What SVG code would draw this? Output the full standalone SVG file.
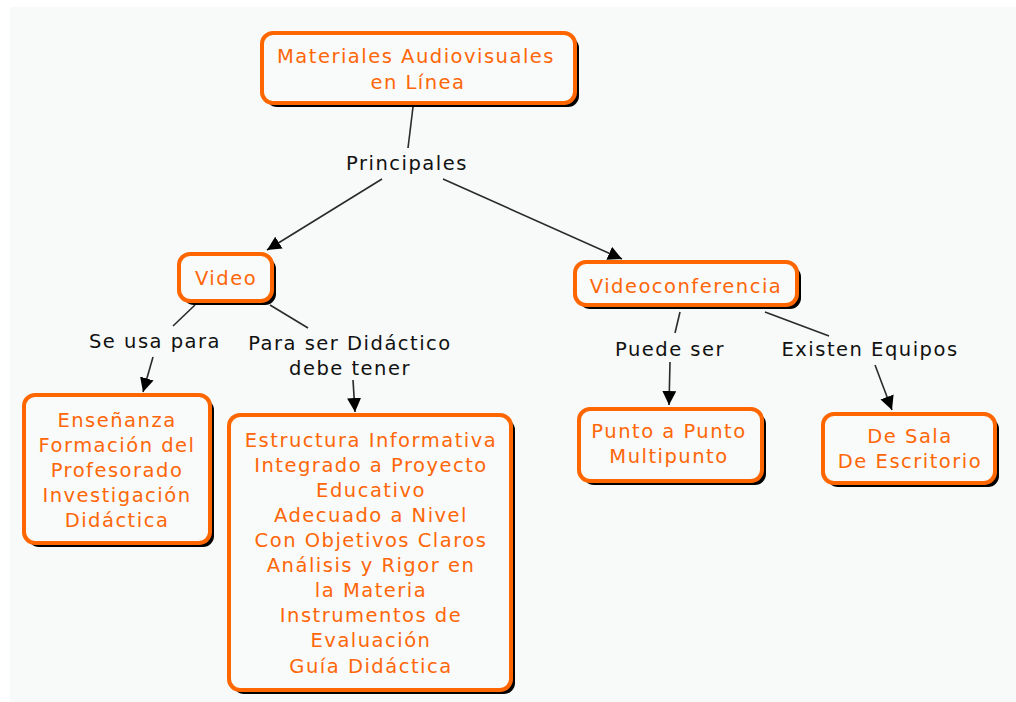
<svg xmlns="http://www.w3.org/2000/svg" width="1016" height="702" viewBox="0 0 1016 702">
<style>
.bg{fill:#f7faf8}
.box{fill:#f8fbf9;stroke:#ff6600;stroke-width:4}
.sh{fill:#000}
.nt{font-family:"DejaVu Sans",Verdana,sans-serif;font-size:19.5px;letter-spacing:1.5px;fill:#ff6608;text-anchor:middle}
.lt{font-family:"DejaVu Sans",Verdana,sans-serif;font-size:19.5px;letter-spacing:1.5px;fill:#111;text-anchor:middle}
.ln{stroke:#2a2a2a;stroke-width:1.6;fill:none}
</style>
<defs>
<marker id="ar" markerUnits="userSpaceOnUse" markerWidth="16" markerHeight="16" refX="14" refY="7" orient="auto">
<path d="M0,0 L14,7 L0,14 z" fill="#000"/>
</marker>
</defs>
<rect class="bg" x="10" y="7" width="1006" height="695"/>
<g id="connectors">
<line class="ln" x1="413" y1="107" x2="408" y2="148"/>
<line class="ln" x1="382" y1="179" x2="267" y2="250" marker-end="url(#ar)"/>
<line class="ln" x1="443" y1="179" x2="622" y2="259" marker-end="url(#ar)"/>
<line class="ln" x1="195" y1="305" x2="173" y2="326"/>
<line class="ln" x1="153" y1="357" x2="143" y2="392" marker-end="url(#ar)"/>
<line class="ln" x1="270" y1="305" x2="308" y2="328"/>
<line class="ln" x1="353" y1="380" x2="355" y2="412" marker-end="url(#ar)"/>
<line class="ln" x1="680" y1="312" x2="675" y2="333"/>
<line class="ln" x1="670" y1="362" x2="669" y2="405" marker-end="url(#ar)"/>
<line class="ln" x1="765" y1="312" x2="829" y2="336"/>
<line class="ln" x1="875" y1="365" x2="892" y2="410" marker-end="url(#ar)"/>
</g>
<g id="labels">
<text class="lt" x="407" y="170">Principales</text>
<text class="lt" x="155" y="348">Se usa para</text>
<text class="lt" x="350" y="350">Para ser Didáctico</text>
<text class="lt" x="350" y="375">debe tener</text>
<text class="lt" x="670" y="356">Puede ser</text>
<text class="lt" x="870" y="356">Existen Equipos</text>
</g>
<g id="n-main">
<rect class="sh" x="266" y="37" width="313" height="70" rx="11"/>
<rect class="box" x="262" y="33" width="313" height="70" rx="11"/>
<text class="nt" x="416" y="63">Materiales Audiovisuales</text>
<text class="nt" x="418" y="89">en Línea</text>
</g>
<g id="n-video">
<rect class="sh" x="183" y="258" width="93" height="47" rx="11"/>
<rect class="box" x="179" y="254" width="93" height="47" rx="11"/>
<text class="nt" x="226" y="285">Video</text>
</g>
<g id="n-videoconferencia">
<rect class="sh" x="579" y="266" width="222" height="43" rx="11"/>
<rect class="box" x="575" y="262" width="222" height="43" rx="11"/>
<text class="nt" x="686" y="293">Videoconferencia</text>
</g>
<g id="n-usos">
<rect class="sh" x="28" y="399" width="186" height="148" rx="11"/>
<rect class="box" x="24" y="395" width="186" height="148" rx="11"/>
<text class="nt" x="117" y="427">Enseñanza</text>
<text class="nt" x="117" y="452">Formación del</text>
<text class="nt" x="117" y="477">Profesorado</text>
<text class="nt" x="117" y="502">Investigación</text>
<text class="nt" x="117" y="527">Didáctica</text>
</g>
<g id="n-requisitos">
<rect class="sh" x="233" y="419" width="282" height="275" rx="11"/>
<rect class="box" x="229" y="415" width="282" height="275" rx="11"/>
<text class="nt" x="371" y="447">Estructura Informativa</text>
<text class="nt" x="371" y="472">Integrado a Proyecto</text>
<text class="nt" x="371" y="497">Educativo</text>
<text class="nt" x="371" y="522">Adecuado a Nivel</text>
<text class="nt" x="371" y="547">Con Objetivos Claros</text>
<text class="nt" x="371" y="572">Análisis y Rigor en</text>
<text class="nt" x="371" y="597">la Materia</text>
<text class="nt" x="371" y="622">Instrumentos de</text>
<text class="nt" x="371" y="647">Evaluación</text>
<text class="nt" x="371" y="673">Guía Didáctica</text>
</g>
<g id="n-tipos">
<rect class="sh" x="583" y="413" width="183" height="72" rx="11"/>
<rect class="box" x="579" y="409" width="183" height="72" rx="11"/>
<text class="nt" x="669" y="438">Punto a Punto</text>
<text class="nt" x="669" y="463">Multipunto</text>
</g>
<g id="n-equipos">
<rect class="sh" x="827" y="418" width="172" height="69" rx="11"/>
<rect class="box" x="823" y="414" width="172" height="69" rx="11"/>
<text class="nt" x="910" y="443">De Sala</text>
<text class="nt" x="910" y="468">De Escritorio</text>
</g>
</svg>
